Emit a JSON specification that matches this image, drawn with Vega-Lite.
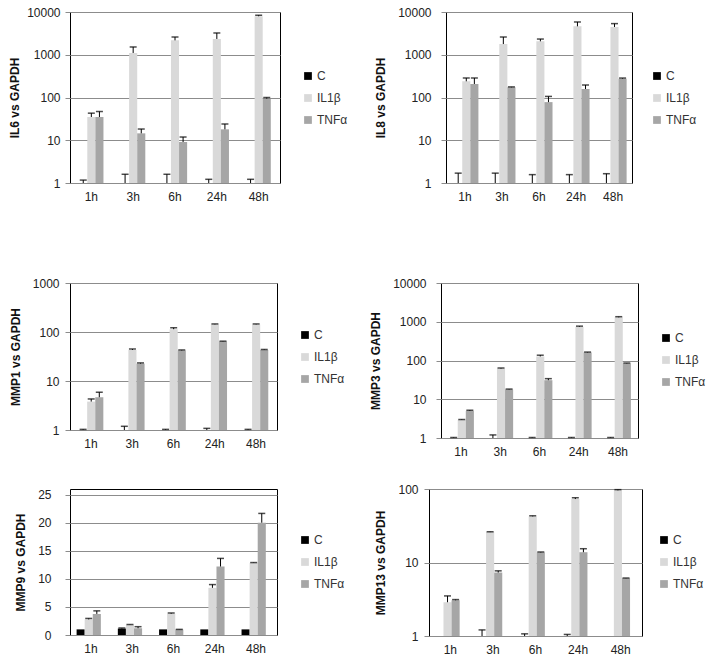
{
  "$schema": "https://vega.github.io/schema/vega-lite/v6.json",
  "padding": {"left": 8, "top": 5, "right": 0, "bottom": 0},
  "background": "white",
  "config": {
    "font": "Liberation Sans",
    "view": {"stroke": "#000", "strokeWidth": 1},
    "axis": {"labelFont": "Liberation Sans", "labelFontSize": 12, "labelColor": "#222", "titleFont": "Liberation Sans", "titleFontSize": 12, "titleFontWeight": "bold", "titleColor": "#111", "domain": false, "ticks": false, "grid": false, "titlePadding": 10},
    "axisY": {"grid": true, "gridColor": "#8c8c8c", "gridWidth": 1, "ticks": true, "tickSize": 5, "tickColor": "#8c8c8c", "labelPadding": 10},
    "axisX": {"labelAngle": 0, "title": null, "labelPadding": 8},
    "legend": {"orient": "none", "title": null, "symbolType": "square", "symbolSize": 60, "symbolStrokeWidth": 0, "labelFont": "Liberation Sans", "labelFontSize": 12, "labelColor": "#333", "rowPadding": 10, "labelOffset": 3},
    "tick": {"color": "#000", "thickness": 1.5},
    "rule": {"color": "#000", "strokeWidth": 1}
  },
  "datasets": {
    "d": [
      {"gene": "IL6", "time": "1h", "series": "C", "value": 1, "hi": 1.17},
      {"gene": "IL6", "time": "1h", "series": "IL1β", "value": 35, "hi": 43},
      {"gene": "IL6", "time": "1h", "series": "TNFα", "value": 35, "hi": 47},
      {"gene": "IL6", "time": "3h", "series": "C", "value": 1, "hi": 1.6},
      {"gene": "IL6", "time": "3h", "series": "IL1β", "value": 1100, "hi": 1520},
      {"gene": "IL6", "time": "3h", "series": "TNFα", "value": 14.5, "hi": 18.3},
      {"gene": "IL6", "time": "6h", "series": "C", "value": 1, "hi": 1.6},
      {"gene": "IL6", "time": "6h", "series": "IL1β", "value": 2170, "hi": 2600},
      {"gene": "IL6", "time": "6h", "series": "TNFα", "value": 9.1, "hi": 11.9},
      {"gene": "IL6", "time": "24h", "series": "C", "value": 1, "hi": 1.22},
      {"gene": "IL6", "time": "24h", "series": "IL1β", "value": 2340, "hi": 3230},
      {"gene": "IL6", "time": "24h", "series": "TNFα", "value": 18, "hi": 24},
      {"gene": "IL6", "time": "48h", "series": "C", "value": 1, "hi": 1.22},
      {"gene": "IL6", "time": "48h", "series": "IL1β", "value": 7940, "hi": 8400},
      {"gene": "IL6", "time": "48h", "series": "TNFα", "value": 94, "hi": 100},

      {"gene": "IL8", "time": "1h", "series": "C", "value": 1, "hi": 1.7},
      {"gene": "IL8", "time": "1h", "series": "IL1β", "value": 239, "hi": 286},
      {"gene": "IL8", "time": "1h", "series": "TNFα", "value": 207, "hi": 286},
      {"gene": "IL8", "time": "3h", "series": "C", "value": 1, "hi": 1.7},
      {"gene": "IL8", "time": "3h", "series": "IL1β", "value": 1780, "hi": 2600},
      {"gene": "IL8", "time": "3h", "series": "TNFα", "value": 173, "hi": 177},
      {"gene": "IL8", "time": "6h", "series": "C", "value": 1, "hi": 1.57},
      {"gene": "IL8", "time": "6h", "series": "IL1β", "value": 2060, "hi": 2330},
      {"gene": "IL8", "time": "6h", "series": "TNFα", "value": 78, "hi": 106},
      {"gene": "IL8", "time": "24h", "series": "C", "value": 1, "hi": 1.57},
      {"gene": "IL8", "time": "24h", "series": "IL1β", "value": 4620, "hi": 5840},
      {"gene": "IL8", "time": "24h", "series": "TNFα", "value": 158, "hi": 196},
      {"gene": "IL8", "time": "48h", "series": "C", "value": 1, "hi": 1.65},
      {"gene": "IL8", "time": "48h", "series": "IL1β", "value": 4460, "hi": 5350},
      {"gene": "IL8", "time": "48h", "series": "TNFα", "value": 276, "hi": 285},

      {"gene": "MMP1", "time": "1h", "series": "C", "value": 1, "hi": 1.03},
      {"gene": "MMP1", "time": "1h", "series": "IL1β", "value": 3.8, "hi": 4.3},
      {"gene": "MMP1", "time": "1h", "series": "TNFα", "value": 4.66, "hi": 5.9},
      {"gene": "MMP1", "time": "3h", "series": "C", "value": 1, "hi": 1.19},
      {"gene": "MMP1", "time": "3h", "series": "IL1β", "value": 43, "hi": 45},
      {"gene": "MMP1", "time": "3h", "series": "TNFα", "value": 22.7, "hi": 23.4},
      {"gene": "MMP1", "time": "6h", "series": "C", "value": 1, "hi": 1.03},
      {"gene": "MMP1", "time": "6h", "series": "IL1β", "value": 114, "hi": 122},
      {"gene": "MMP1", "time": "6h", "series": "TNFα", "value": 42, "hi": 43},
      {"gene": "MMP1", "time": "24h", "series": "C", "value": 1, "hi": 1.08},
      {"gene": "MMP1", "time": "24h", "series": "IL1β", "value": 143, "hi": 146},
      {"gene": "MMP1", "time": "24h", "series": "TNFα", "value": 64, "hi": 65},
      {"gene": "MMP1", "time": "48h", "series": "C", "value": 1, "hi": 1.03},
      {"gene": "MMP1", "time": "48h", "series": "IL1β", "value": 143, "hi": 146},
      {"gene": "MMP1", "time": "48h", "series": "TNFα", "value": 43, "hi": 44},

      {"gene": "MMP3", "time": "1h", "series": "C", "value": 1, "hi": 1.03},
      {"gene": "MMP3", "time": "1h", "series": "IL1β", "value": 2.92, "hi": 3.0},
      {"gene": "MMP3", "time": "1h", "series": "TNFα", "value": 5.0, "hi": 5.2},
      {"gene": "MMP3", "time": "3h", "series": "C", "value": 1, "hi": 1.2},
      {"gene": "MMP3", "time": "3h", "series": "IL1β", "value": 62, "hi": 64},
      {"gene": "MMP3", "time": "3h", "series": "TNFα", "value": 17.8, "hi": 18.3},
      {"gene": "MMP3", "time": "6h", "series": "C", "value": 1, "hi": 1.03},
      {"gene": "MMP3", "time": "6h", "series": "IL1β", "value": 127, "hi": 137},
      {"gene": "MMP3", "time": "6h", "series": "TNFα", "value": 31, "hi": 34},
      {"gene": "MMP3", "time": "24h", "series": "C", "value": 1, "hi": 1.03},
      {"gene": "MMP3", "time": "24h", "series": "IL1β", "value": 743, "hi": 770},
      {"gene": "MMP3", "time": "24h", "series": "TNFα", "value": 161, "hi": 165},
      {"gene": "MMP3", "time": "48h", "series": "C", "value": 1, "hi": 1.03},
      {"gene": "MMP3", "time": "48h", "series": "IL1β", "value": 1300, "hi": 1350},
      {"gene": "MMP3", "time": "48h", "series": "TNFα", "value": 84, "hi": 86},

      {"gene": "MMP9", "time": "1h", "series": "C", "value": 1.0, "hi": null},
      {"gene": "MMP9", "time": "1h", "series": "IL1β", "value": 2.78, "hi": 2.95},
      {"gene": "MMP9", "time": "1h", "series": "TNFα", "value": 3.75, "hi": 4.3},
      {"gene": "MMP9", "time": "3h", "series": "C", "value": 1.14, "hi": 1.25},
      {"gene": "MMP9", "time": "3h", "series": "IL1β", "value": 1.82, "hi": 1.87},
      {"gene": "MMP9", "time": "3h", "series": "TNFα", "value": 1.2, "hi": 1.48},
      {"gene": "MMP9", "time": "6h", "series": "C", "value": 1.0, "hi": null},
      {"gene": "MMP9", "time": "6h", "series": "IL1β", "value": 3.8, "hi": 3.92},
      {"gene": "MMP9", "time": "6h", "series": "TNFα", "value": 0.97, "hi": 1.0},
      {"gene": "MMP9", "time": "24h", "series": "C", "value": 1.0, "hi": null},
      {"gene": "MMP9", "time": "24h", "series": "IL1β", "value": 8.4, "hi": 8.98},
      {"gene": "MMP9", "time": "24h", "series": "TNFα", "value": 12.2, "hi": 13.64},
      {"gene": "MMP9", "time": "48h", "series": "C", "value": 1.0, "hi": null},
      {"gene": "MMP9", "time": "48h", "series": "IL1β", "value": 12.84, "hi": 12.9},
      {"gene": "MMP9", "time": "48h", "series": "TNFα", "value": 20.0, "hi": 21.65},

      {"gene": "MMP13", "time": "1h", "series": "C", "value": 1, "hi": null},
      {"gene": "MMP13", "time": "1h", "series": "IL1β", "value": 2.88, "hi": 3.51},
      {"gene": "MMP13", "time": "1h", "series": "TNFα", "value": 3.06, "hi": 3.13},
      {"gene": "MMP13", "time": "3h", "series": "C", "value": 1, "hi": 1.21},
      {"gene": "MMP13", "time": "3h", "series": "IL1β", "value": 25.9, "hi": 26.2},
      {"gene": "MMP13", "time": "3h", "series": "TNFα", "value": 7.3, "hi": 7.7},
      {"gene": "MMP13", "time": "6h", "series": "C", "value": 1, "hi": 1.07},
      {"gene": "MMP13", "time": "6h", "series": "IL1β", "value": 42.4, "hi": 43.2},
      {"gene": "MMP13", "time": "6h", "series": "TNFα", "value": 13.7, "hi": 13.9},
      {"gene": "MMP13", "time": "24h", "series": "C", "value": 1, "hi": 1.05},
      {"gene": "MMP13", "time": "24h", "series": "IL1β", "value": 73, "hi": 76},
      {"gene": "MMP13", "time": "24h", "series": "TNFα", "value": 13.8, "hi": 15.4},
      {"gene": "MMP13", "time": "48h", "series": "C", "value": 1, "hi": null},
      {"gene": "MMP13", "time": "48h", "series": "IL1β", "value": 95.8, "hi": 98},
      {"gene": "MMP13", "time": "48h", "series": "TNFα", "value": 6.1, "hi": 6.15}
    ]
  },
  "spacing": 73,
  "resolve": {"scale": {"color": "independent", "x": "independent", "y": "independent"}},
  "vconcat": [
    {
      "spacing": 25,
      "resolve": {"scale": {"color": "independent"}},
      "hconcat": [
        {
          "width": 210, "height": 171,
          "data": {"name": "d"},
          "transform": [{"filter": "datum.gene === 'IL6'"}],
          "encoding": {
            "x": {"field": "time", "type": "nominal", "sort": ["1h", "3h", "6h", "24h", "48h"], "scale": {"paddingInner": 0.42, "paddingOuter": 0.22}},
            "xOffset": {"field": "series", "type": "nominal", "sort": ["C", "IL1β", "TNFα"], "scale": {"paddingInner": 0, "paddingOuter": 0}}
          },
          "layer": [
            {"mark": {"type": "bar"}, "encoding": {
              "y": {"field": "value", "type": "quantitative", "title": "IL6 vs  GAPDH", "scale": {"type": "log", "domain": [1, 10000]}, "axis": {"values": [1, 10, 100, 1000, 10000], "format": "d", "titlePadding": 5, "labelPadding": 5}},
              "y2": {"datum": 1},
              "color": {"field": "series", "type": "nominal", "scale": {"domain": ["C", "IL1β", "TNFα"], "range": ["#000000", "#d9d9d9", "#a6a6a6"]}, "legend": {"legendX": 232, "legendY": 58}}}},
            {"transform": [{"filter": "isValid(datum.hi)"}], "mark": {"type": "rule"}, "encoding": {"y": {"field": "value", "type": "quantitative", "title": "IL6 vs  GAPDH", "axis": {"values": [1, 10, 100, 1000, 10000], "format": "d", "titlePadding": 5, "labelPadding": 5}}, "y2": {"field": "hi"}}},
            {"transform": [{"filter": "isValid(datum.hi)"}], "mark": {"type": "tick", "size": 7}, "encoding": {"y": {"field": "hi", "type": "quantitative", "title": "IL6 vs  GAPDH", "axis": {"values": [1, 10, 100, 1000, 10000], "format": "d", "titlePadding": 5, "labelPadding": 5}}}}
          ]
        },
        {
          "width": 186, "height": 171,
          "data": {"name": "d"},
          "transform": [{"filter": "datum.gene === 'IL8'"}],
          "encoding": {
            "x": {"field": "time", "type": "nominal", "sort": ["1h", "3h", "6h", "24h", "48h"], "scale": {"paddingInner": 0.42, "paddingOuter": 0.22}},
            "xOffset": {"field": "series", "type": "nominal", "sort": ["C", "IL1β", "TNFα"], "scale": {"paddingInner": 0, "paddingOuter": 0}}
          },
          "layer": [
            {"mark": {"type": "bar"}, "encoding": {
              "y": {"field": "value", "type": "quantitative", "title": "IL8 vs  GAPDH", "scale": {"type": "log", "domain": [1, 10000]}, "axis": {"values": [1, 10, 100, 1000, 10000], "format": "d"}},
              "y2": {"datum": 1},
              "color": {"field": "series", "type": "nominal", "scale": {"domain": ["C", "IL1β", "TNFα"], "range": ["#000000", "#d9d9d9", "#a6a6a6"]}, "legend": {"legendX": 205, "legendY": 58}}}},
            {"transform": [{"filter": "isValid(datum.hi)"}], "mark": {"type": "rule"}, "encoding": {"y": {"field": "value", "type": "quantitative", "title": "IL8 vs  GAPDH", "axis": {"values": [1, 10, 100, 1000, 10000], "format": "d"}}, "y2": {"field": "hi"}}},
            {"transform": [{"filter": "isValid(datum.hi)"}], "mark": {"type": "tick", "size": 7}, "encoding": {"y": {"field": "hi", "type": "quantitative", "title": "IL8 vs  GAPDH", "axis": {"values": [1, 10, 100, 1000, 10000], "format": "d"}}}}
          ]
        }
      ]
    },
    {
      "spacing": 24,
      "resolve": {"scale": {"color": "independent", "x": "independent", "y": "independent"}},
      "vconcat": [
        {
          "spacing": 23,
          "resolve": {"scale": {"color": "independent"}},
          "hconcat": [
            {
              "width": 207, "height": 147,
              "data": {"name": "d"},
              "transform": [{"filter": "datum.gene === 'MMP1'"}],
              "encoding": {
                "x": {"field": "time", "type": "nominal", "sort": ["1h", "3h", "6h", "24h", "48h"], "scale": {"paddingInner": 0.42, "paddingOuter": 0.22}},
                "xOffset": {"field": "series", "type": "nominal", "sort": ["C", "IL1β", "TNFα"], "scale": {"paddingInner": 0, "paddingOuter": 0}}
              },
              "layer": [
                {"mark": {"type": "bar"}, "encoding": {
                  "y": {"field": "value", "type": "quantitative", "title": "MMP1 vs  GAPDH", "scale": {"type": "log", "domain": [1, 1000]}, "axis": {"values": [1, 10, 100, 1000], "format": "d", "labelPadding": 6}},
                  "y2": {"datum": 1},
                  "color": {"field": "series", "type": "nominal", "scale": {"domain": ["C", "IL1β", "TNFα"], "range": ["#000000", "#d9d9d9", "#a6a6a6"]}, "legend": {"legendX": 229, "legendY": 46}}}},
                {"transform": [{"filter": "isValid(datum.hi)"}], "mark": {"type": "rule"}, "encoding": {"y": {"field": "value", "type": "quantitative", "title": "MMP1 vs  GAPDH", "axis": {"values": [1, 10, 100, 1000], "format": "d", "labelPadding": 6}}, "y2": {"field": "hi"}}},
                {"transform": [{"filter": "isValid(datum.hi)"}], "mark": {"type": "tick", "size": 7}, "encoding": {"y": {"field": "hi", "type": "quantitative", "title": "MMP1 vs  GAPDH", "axis": {"values": [1, 10, 100, 1000], "format": "d", "labelPadding": 6}}}}
              ]
            },
            {
              "width": 197, "height": 155,
              "data": {"name": "d"},
              "transform": [{"filter": "datum.gene === 'MMP3'"}],
              "encoding": {
                "x": {"field": "time", "type": "nominal", "sort": ["1h", "3h", "6h", "24h", "48h"], "scale": {"paddingInner": 0.42, "paddingOuter": 0.22}},
                "xOffset": {"field": "series", "type": "nominal", "sort": ["C", "IL1β", "TNFα"], "scale": {"paddingInner": 0, "paddingOuter": 0}}
              },
              "layer": [
                {"mark": {"type": "bar"}, "encoding": {
                  "y": {"field": "value", "type": "quantitative", "title": "MMP3 vs  GAPDH", "scale": {"type": "log", "domain": [1, 10000]}, "axis": {"values": [1, 10, 100, 1000, 10000], "format": "d"}},
                  "y2": {"datum": 1},
                  "color": {"field": "series", "type": "nominal", "scale": {"domain": ["C", "IL1β", "TNFα"], "range": ["#000000", "#d9d9d9", "#a6a6a6"]}, "legend": {"legendX": 219, "legendY": 49}}}},
                {"transform": [{"filter": "isValid(datum.hi)"}], "mark": {"type": "rule"}, "encoding": {"y": {"field": "value", "type": "quantitative", "title": "MMP3 vs  GAPDH", "axis": {"values": [1, 10, 100, 1000, 10000], "format": "d"}}, "y2": {"field": "hi"}}},
                {"transform": [{"filter": "isValid(datum.hi)"}], "mark": {"type": "tick", "size": 7}, "encoding": {"y": {"field": "hi", "type": "quantitative", "title": "MMP3 vs  GAPDH", "axis": {"values": [1, 10, 100, 1000, 10000], "format": "d"}}}}
              ]
            }
          ]
        },
        {
          "spacing": 28,
          "resolve": {"scale": {"color": "independent"}},
          "hconcat": [
            {
              "width": 207, "height": 146,
              "data": {"name": "d"},
              "transform": [{"filter": "datum.gene === 'MMP9'"}],
              "encoding": {
                "x": {"field": "time", "type": "nominal", "sort": ["1h", "3h", "6h", "24h", "48h"], "scale": {"paddingInner": 0.3, "paddingOuter": 0.16}},
                "xOffset": {"field": "series", "type": "nominal", "sort": ["C", "IL1β", "TNFα"], "scale": {"paddingInner": 0, "paddingOuter": 0}}
              },
              "layer": [
                {"mark": {"type": "bar"}, "encoding": {
                  "y": {"field": "value", "type": "quantitative", "title": "MMP9 vs  GAPDH", "scale": {"domain": [0, 25]}, "axis": {"values": [0, 5, 10, 15, 20, 25], "labelPadding": 14}},
                  "color": {"field": "series", "type": "nominal", "scale": {"domain": ["C", "IL1β", "TNFα"], "range": ["#000000", "#d9d9d9", "#a6a6a6"]}, "legend": {"legendX": 229, "legendY": 45}}}},
                {"transform": [{"filter": "isValid(datum.hi)"}], "mark": {"type": "rule"}, "encoding": {"y": {"field": "value", "type": "quantitative", "title": "MMP9 vs  GAPDH", "axis": {"values": [0, 5, 10, 15, 20, 25], "labelPadding": 14}}, "y2": {"field": "hi"}}},
                {"transform": [{"filter": "isValid(datum.hi)"}], "mark": {"type": "tick", "size": 7}, "encoding": {"y": {"field": "hi", "type": "quantitative", "title": "MMP9 vs  GAPDH", "axis": {"values": [0, 5, 10, 15, 20, 25], "labelPadding": 14}}}}
              ]
            },
            {
              "width": 213, "height": 147,
              "data": {"name": "d"},
              "transform": [{"filter": "datum.gene === 'MMP13'"}],
              "encoding": {
                "x": {"field": "time", "type": "nominal", "sort": ["1h", "3h", "6h", "24h", "48h"], "scale": {"paddingInner": 0.3, "paddingOuter": 0.15}},
                "xOffset": {"field": "series", "type": "nominal", "sort": ["C", "IL1β", "TNFα"], "scale": {"paddingInner": 0, "paddingOuter": 0}}
              },
              "layer": [
                {"mark": {"type": "bar"}, "encoding": {
                  "y": {"field": "value", "type": "quantitative", "title": "MMP13 vs  GAPDH", "scale": {"type": "log", "domain": [1, 100]}, "axis": {"values": [1, 10, 100], "format": "d", "labelPadding": 6}},
                  "y2": {"datum": 1},
                  "color": {"field": "series", "type": "nominal", "scale": {"domain": ["C", "IL1β", "TNFα"], "range": ["#000000", "#d9d9d9", "#a6a6a6"]}, "legend": {"legendX": 229, "legendY": 45}}}},
                {"transform": [{"filter": "isValid(datum.hi)"}], "mark": {"type": "rule"}, "encoding": {"y": {"field": "value", "type": "quantitative", "title": "MMP13 vs  GAPDH", "axis": {"values": [1, 10, 100], "format": "d", "labelPadding": 6}}, "y2": {"field": "hi"}}},
                {"transform": [{"filter": "isValid(datum.hi)"}], "mark": {"type": "tick", "size": 7}, "encoding": {"y": {"field": "hi", "type": "quantitative", "title": "MMP13 vs  GAPDH", "axis": {"values": [1, 10, 100], "format": "d", "labelPadding": 6}}}}
              ]
            }
          ]
        }
      ]
    }
  ]
}
